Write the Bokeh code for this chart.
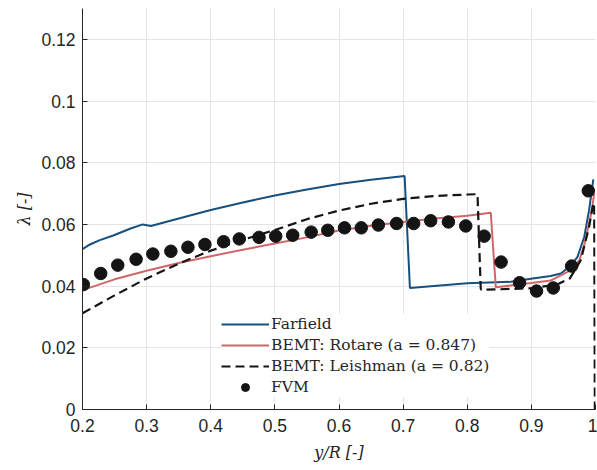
from bokeh.plotting import figure
from bokeh.models import Range1d, FixedTicker, Legend, LegendItem
from bokeh.embed import file_html
from bokeh.resources import INLINE

# Spanwise inflow ratio along the blade, y/R
farfield_x = [0.2, 0.2117, 0.227, 0.248, 0.274, 0.294, 0.3066, 0.337, 0.4, 0.45, 0.5,
              0.55, 0.6, 0.65, 0.7023, 0.7106, 0.8, 0.868, 0.902, 0.93, 0.946, 0.961,
              0.972, 0.9825, 0.990, 0.9966]
farfield_y = [0.052, 0.0535, 0.0549, 0.0564, 0.0586, 0.0600, 0.0595, 0.0612, 0.0647,
              0.0671, 0.0694, 0.0713, 0.0731, 0.0745, 0.0757, 0.0394, 0.0409, 0.0414,
              0.0425, 0.0433, 0.0441, 0.0466, 0.0495, 0.0560, 0.0646, 0.0746]

rotare_x = [0.2, 0.25, 0.3, 0.35, 0.4, 0.45, 0.5, 0.55, 0.6, 0.65, 0.7, 0.75, 0.8,
            0.8367, 0.8445, 0.9, 0.93, 0.9617, 0.975, 0.9825, 0.9934, 0.998]
rotare_y = [0.0387, 0.0422, 0.0450, 0.0475, 0.0497, 0.0518, 0.0538, 0.0558, 0.0580,
            0.0596, 0.0608, 0.0619, 0.0628, 0.0638, 0.0396, 0.0410, 0.0418, 0.0452,
            0.0485, 0.0533, 0.0636, 0.0700]

leishman_x = [0.2, 0.25, 0.3, 0.35, 0.4, 0.45, 0.5, 0.55, 0.6, 0.65, 0.7, 0.75, 0.8,
              0.816, 0.821, 0.822, 0.9, 0.94, 0.96, 0.977, 0.990, 0.9955, 0.998, 0.999]
leishman_y = [0.0312, 0.0370, 0.0425, 0.0473, 0.0515, 0.0550, 0.0582, 0.0617, 0.0645,
              0.0667, 0.0683, 0.0692, 0.0697, 0.0698, 0.0392, 0.0388, 0.0393, 0.0405,
              0.0425, 0.0484, 0.0592, 0.0657, 0.0670, 0.0]

fvm_x = [0.2013, 0.2284, 0.2550, 0.2836, 0.3097, 0.3378, 0.3644, 0.3909, 0.4200,
         0.4445, 0.4753, 0.5013, 0.5278, 0.5566, 0.5825, 0.6086, 0.6347, 0.6613,
         0.6898, 0.7164, 0.7430, 0.7706, 0.7977, 0.8263, 0.8528, 0.8816, 0.9081,
         0.9341, 0.9628, 0.9888]
fvm_y = [0.0405, 0.0441, 0.0468, 0.0487, 0.0504, 0.0513, 0.0526, 0.0535, 0.0544,
         0.0553, 0.0558, 0.0562, 0.0565, 0.0575, 0.0581, 0.0589, 0.0589, 0.0598,
         0.0603, 0.0603, 0.0612, 0.0608, 0.0595, 0.0562, 0.0478, 0.0411, 0.0384,
         0.0394, 0.0465, 0.0709]

x_ticks = [0.2, 0.3, 0.4, 0.5, 0.6, 0.7, 0.8, 0.9, 1.0]
x_tick_labels = ["0.2", "0.3", "0.4", "0.5", "0.6", "0.7", "0.8", "0.9", "1"]
y_ticks = [0.0, 0.02, 0.04, 0.06, 0.08, 0.1, 0.12]
y_tick_labels = ["0", "0.02", "0.04", "0.06", "0.08", "0.1", "0.12"]

series_names = ["Farfield", "BEMT: Rotare (a = 0.847)",
                "BEMT: Leishman (a = 0.82)", "FVM"]

BLUE = "#16507f"
RED = "#d06767"
DARK = "#141414"
AXIS = "#262626"
SERIF = "DejaVu Serif"
SANS = "Liberation Sans"

p = figure(width=597, height=470,
           x_range=Range1d(0.2, 1.0), y_range=Range1d(0.0, 0.13),
           output_backend="svg", toolbar_location=None,
           min_border_left=82, min_border_right=2,
           min_border_top=8, min_border_bottom=61)
p.outline_line_color = None
p.background_fill_color = "white"

r_far = p.line(farfield_x, farfield_y, line_color=BLUE, line_width=2)
r_rot = p.line(rotare_x, rotare_y, line_color=RED, line_width=2)
r_lei = p.line(leishman_x, leishman_y, line_color=DARK, line_width=2.2,
               line_dash="9 5")
r_fvm = p.scatter(fvm_x, fvm_y, size=12.5, marker="circle",
                  fill_color=DARK, line_color=DARK)

# Axes: MATLAB-like inward ticks, no minor ticks
p.xaxis.ticker = FixedTicker(ticks=x_ticks)
p.yaxis.ticker = FixedTicker(ticks=y_ticks)
p.xaxis.major_label_overrides = dict(zip(x_ticks, x_tick_labels))
p.yaxis.major_label_overrides = dict(zip(y_ticks, y_tick_labels))

for ax in (p.xaxis, p.yaxis):
    ax.axis_line_color = AXIS
    ax.axis_line_width = 1
    ax.major_tick_line_color = AXIS
    ax.major_tick_in = 5
    ax.major_tick_out = 0
    ax.minor_tick_line_color = None
    ax.major_label_text_font = SANS
    ax.major_label_text_font_size = "17.5px"
    ax.major_label_text_color = AXIS
    ax.axis_label_text_font = SERIF
    ax.axis_label_text_font_size = "16px"
    ax.axis_label_text_font_style = "italic"
    ax.axis_label_text_color = AXIS

p.xaxis.axis_label = "y/R [-]"
p.yaxis.axis_label = "λ [-]"
p.xaxis.major_label_standoff = 9
p.yaxis.major_label_standoff = 7
p.xaxis.axis_label_standoff = 8
p.yaxis.axis_label_standoff = 4

p.xgrid.grid_line_color = "#e4e4e4"
p.ygrid.grid_line_color = "#e4e4e4"
p.xgrid.grid_line_width = 1
p.ygrid.grid_line_width = 1

legend = Legend(items=[
    LegendItem(label=series_names[0], renderers=[r_far]),
    LegendItem(label=series_names[1], renderers=[r_rot]),
    LegendItem(label=series_names[2], renderers=[r_lei]),
    LegendItem(label=series_names[3], renderers=[r_fvm]),
], location=(139, 12))
legend.border_line_color = None
legend.background_fill_color = "white"
legend.background_fill_alpha = 1.0
legend.label_text_font = SERIF
legend.label_text_font_size = "15.5px"
legend.label_text_color = AXIS
legend.glyph_width = 48
legend.glyph_height = 20
legend.label_height = 20
legend.label_standoff = 2
legend.spacing = 1
legend.padding = 5
legend.margin = 0
p.add_layout(legend, "center")

open("out.html", "w").write(file_html(p, INLINE))
